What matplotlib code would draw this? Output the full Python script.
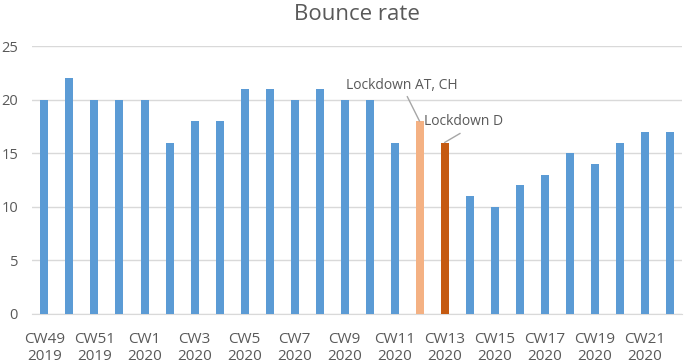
import matplotlib
matplotlib.use("Agg")
import matplotlib.pyplot as plt
import numpy as np

weeks = ["CW49", "CW50", "CW51", "CW52", "CW1", "CW2", "CW3", "CW4", "CW5", "CW6",
         "CW7", "CW8", "CW9", "CW10", "CW11", "CW12", "CW13", "CW14", "CW15", "CW16",
         "CW17", "CW18", "CW19", "CW20", "CW21", "CW22"]
years = ["2019"] * 4 + ["2020"] * 22
bounce_rate = [20, 22, 20, 20, 20, 16, 18, 18, 21, 21, 20, 21, 20, 20, 16, 18, 16,
               11, 10, 12, 13, 15, 14, 16, 17, 17]
highlight = {15: "#F4B183", 16: "#C55A11"}
annotations = {15: "Lockdown AT, CH", 16: "Lockdown D"}
yticks = [0, 5, 10, 15, 20, 25]

plt.rcParams['font.family'] = ['Open Sans', 'DejaVu Sans']
text_color = "#595959"

fig = plt.figure(figsize=(6.85, 3.63), dpi=100)
ax = fig.add_axes([0.0467, 0.135, 0.949, 0.738])

x = np.arange(len(bounce_rate))
colors = [highlight.get(i, "#5B9BD5") for i in x]
ax.bar(x, bounce_rate, width=0.32, color=colors, zorder=3)

ax.set_xlim(-0.5, len(bounce_rate) - 0.5)
ax.set_ylim(0, 25)
ax.set_yticks(yticks)
ax.set_yticklabels([str(v) for v in yticks], fontsize=10.5, color=text_color)
ax.yaxis.grid(True, color="#D9D9D9", linewidth=1, zorder=0)
ax.set_axisbelow(True)

ax.set_xticks(x[::2])
ax.set_xticklabels([f"{weeks[i]}\n{years[i]}" for i in x[::2]], fontsize=11,
                   color=text_color, linespacing=1.2)
ax.tick_params(axis='both', length=0)
ax.tick_params(axis='y', pad=10)
ax.tick_params(axis='x', pad=13)

for s in ["top", "right", "left"]:
    ax.spines[s].set_visible(False)
ax.spines["bottom"].set_color("#D9D9D9")

ax.set_title("Bounce rate", fontsize=16, color=text_color, pad=19)

# annotations
ax.annotate(annotations[15], xy=(15, bounce_rate[15]), xytext=(-13, 26),
            textcoords="offset points", ha="center", va="center",
            fontsize=10, color=text_color,
            arrowprops=dict(arrowstyle="-", color="#A6A6A6", lw=1,
                            shrinkA=1, shrinkB=0))
ax.annotate(annotations[16], xy=(16, bounce_rate[16]), xytext=(-15, 15),
            textcoords="offset points", ha="left", va="center",
            fontsize=10, color=text_color,
            arrowprops=dict(arrowstyle="-", color="#A6A6A6", lw=1,
                            shrinkA=2, shrinkB=0, relpos=(0.55, 0)))

fig.savefig("out.png", dpi=100)
